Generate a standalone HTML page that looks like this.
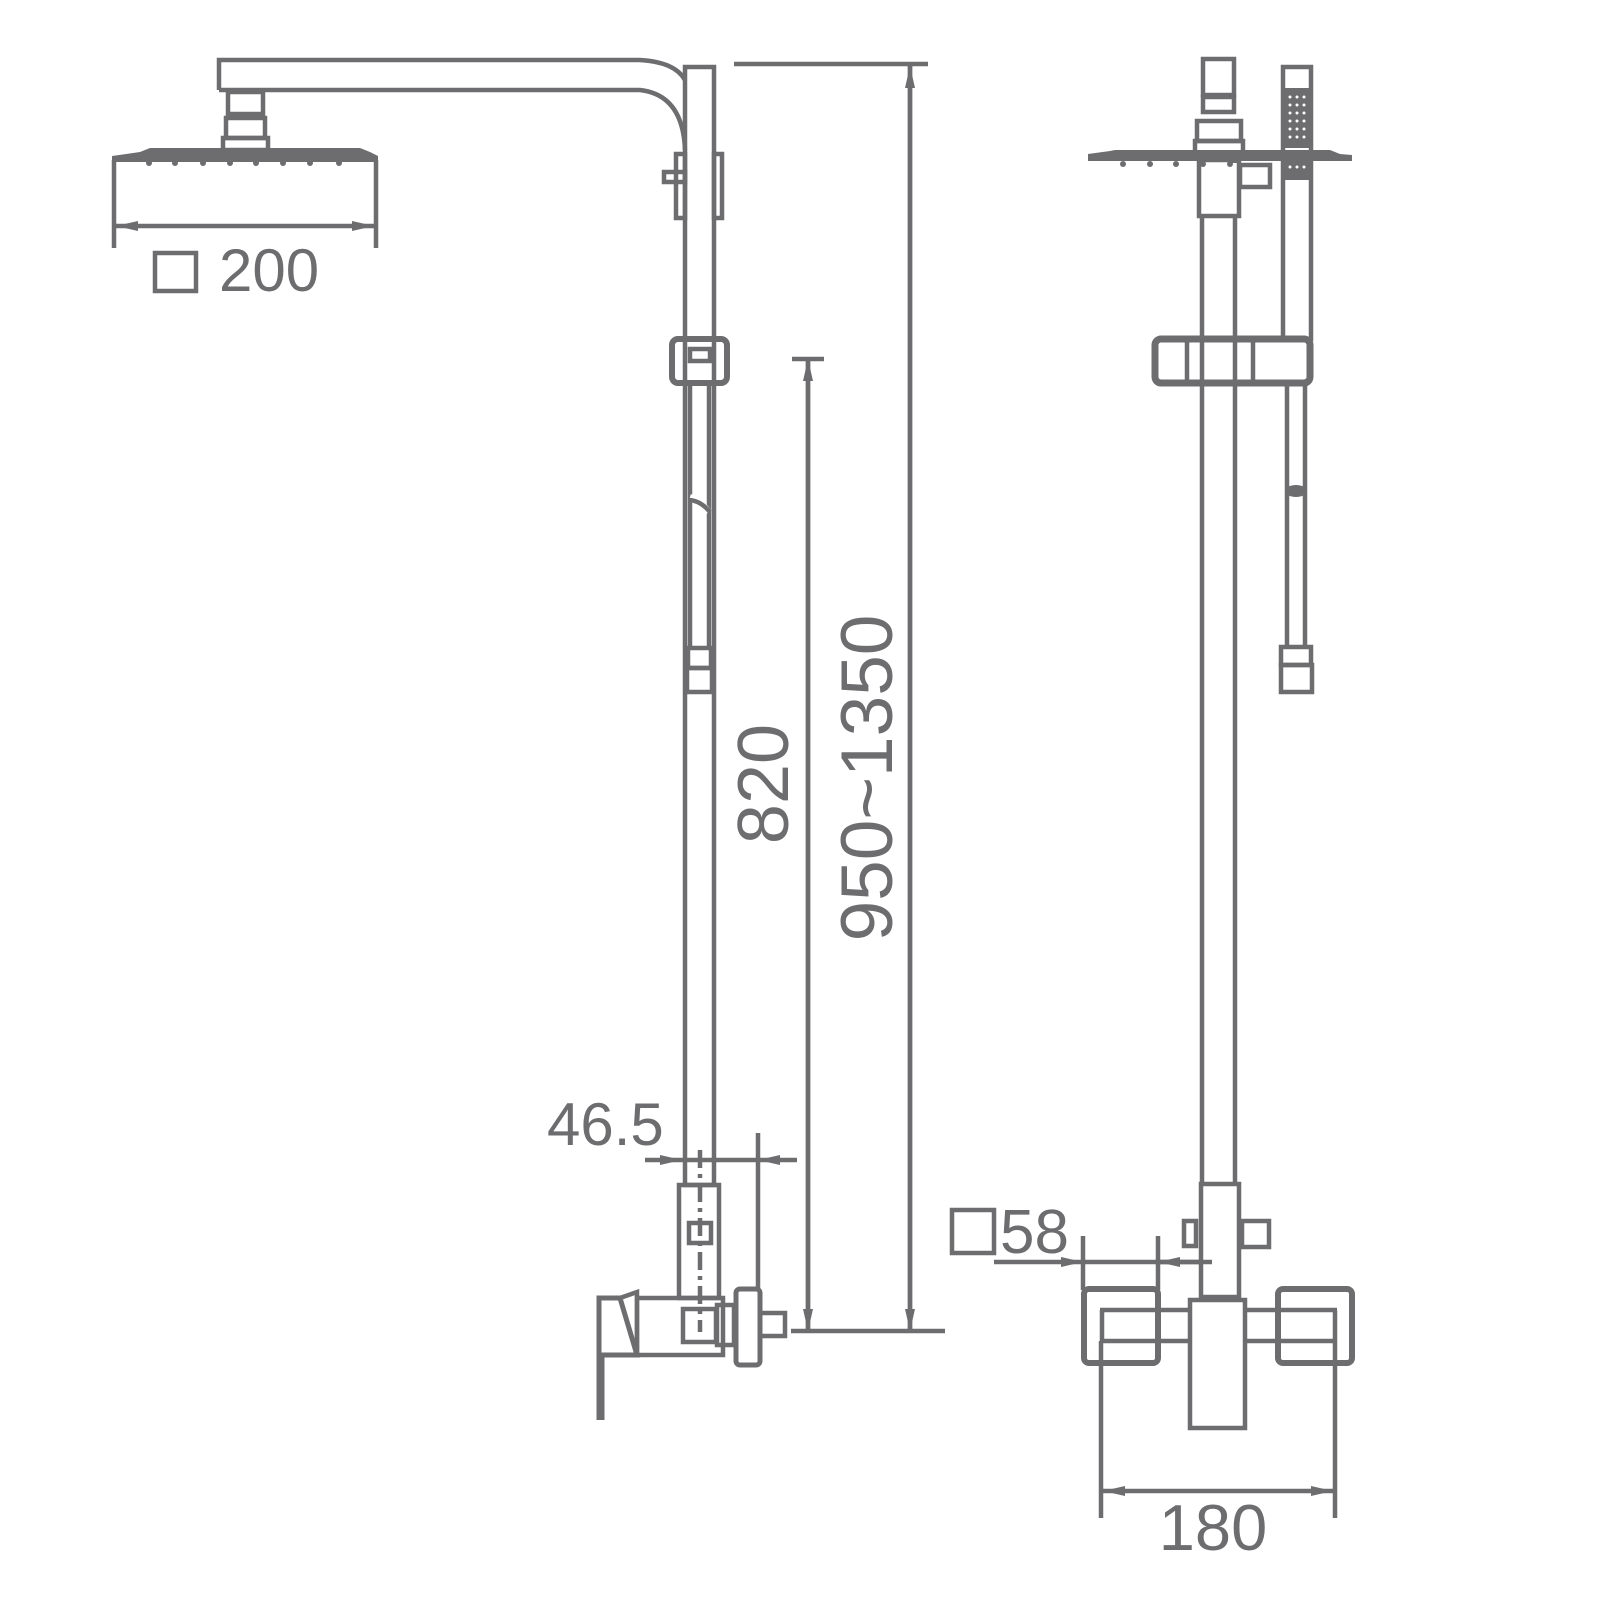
<!DOCTYPE html>
<html><head><meta charset="utf-8"><style>
html,body{margin:0;padding:0;background:#fff;}
svg{display:block}
text{font-family:"Liberation Sans",Arial,sans-serif;fill:#6d6d70}
</style></head><body>
<svg width="1600" height="1600" viewBox="0 0 1600 1600" xmlns="http://www.w3.org/2000/svg">
<defs>
<marker id="a" viewBox="0 0 22 12" refX="22" refY="6" markerWidth="22" markerHeight="12" markerUnits="userSpaceOnUse" orient="auto-start-reverse">
<path d="M0,1 L22,6 L0,11 Z" fill="#6d6d70"/></marker>
</defs>
<g fill="none" stroke="#6d6d70" stroke-width="4.5">
<!-- LEFT VIEW -->
<path d="M219,90 L219,60 L640,60 Q675,62 685,80"/>
<path d="M219,90 L640,90 Q683,95 685,150"/>
<rect x="685" y="67" width="29" height="1118"/>
<rect x="676" y="154" width="9" height="64"/>
<rect x="664" y="172" width="21" height="10"/>
<rect x="714" y="154" width="8" height="64"/>
<rect x="228" y="92" width="35" height="22"/>
<rect x="226" y="118" width="39" height="20"/>
<rect x="223" y="138" width="45" height="12"/>
<path d="M114,160 L114,248 M376,160 L376,248"/>
<line x1="116" y1="226" x2="374" y2="226" marker-start="url(#a)" marker-end="url(#a)"/>
<rect x="672" y="339" width="55" height="44" rx="6" stroke-width="6"/>
<rect x="690" y="349" width="20" height="12"/>
<path d="M690,383 L690,648 M709,383 L709,648"/>
<path d="M690,497 Q700,500 709,512" stroke="#fff" stroke-width="6"/>
<path d="M688,500 Q700,500 710,512"/>
<rect x="688" y="648" width="23" height="20"/>
<rect x="687" y="668" width="25" height="24"/>
<rect x="679" y="1185" width="40" height="113"/>
<rect x="689" y="1223" width="22" height="20"/>
<line x1="700" y1="1150" x2="700" y2="1332" stroke-dasharray="18,6,4,6"/>
<path d="M599,1420 L599,1298 L620,1298 L637,1355 L602,1355 L602,1420" stroke-width="5"/>
<path d="M620,1298 L637,1292 L637,1355"/>
<rect x="637" y="1298" width="86" height="57"/>
<rect x="683" y="1309" width="33" height="33"/>
<rect x="717" y="1305" width="17" height="40"/>
<rect x="736" y="1289" width="24" height="76" rx="4" stroke-width="5"/>
<rect x="760" y="1313" width="25" height="23"/>
<line x1="645" y1="1160" x2="682" y2="1160" marker-end="url(#a)"/>
<line x1="682" y1="1160" x2="758" y2="1160"/>
<line x1="797" y1="1160" x2="758" y2="1160" marker-end="url(#a)"/>
<line x1="758" y1="1133" x2="758" y2="1290"/>
<line x1="792" y1="359" x2="824" y2="359"/>
<line x1="808" y1="1331" x2="808" y2="359" marker-end="url(#a)"/>
<line x1="808" y1="361" x2="808" y2="1331" marker-end="url(#a)"/>
<line x1="910" y1="66" x2="910" y2="1331" marker-end="url(#a)"/>
<line x1="910" y1="1331" x2="910" y2="66" marker-end="url(#a)"/>
<line x1="734" y1="64" x2="928" y2="64"/>
<line x1="791" y1="1331" x2="945" y2="1331"/>

<!-- RIGHT VIEW -->
<rect x="1203" y="59" width="31" height="36"/>
<rect x="1203" y="97" width="31" height="15" />
<rect x="1197" y="121" width="44" height="20"/>
<rect x="1195" y="141" width="48" height="12"/>
<rect x="1199" y="160" width="40" height="56"/>
<rect x="1240" y="165" width="30" height="22"/>
<path d="M1202,216 L1202,1183 M1235,216 L1235,1183"/>
<rect x="1283" y="67" width="28" height="272"/>
<rect x="1155" y="339" width="155" height="44" rx="6" stroke-width="7"/>
<path d="M1187,339 L1187,383 M1253,339 L1253,383"/>
<path d="M1287,383 L1287,647 M1305,383 L1305,647"/>
<rect x="1281" y="647" width="30" height="18"/>
<rect x="1281" y="665" width="31" height="27"/>
<rect x="1201" y="1184" width="38" height="113"/>
<rect x="1184" y="1221" width="12" height="25"/>
<rect x="1242" y="1221" width="27" height="26"/>
<rect x="1190" y="1300" width="55" height="128"/>
<path d="M1100,1310 L1190,1310 M1100,1341 L1190,1341 M1245,1310 L1337,1310 M1245,1341 L1337,1341"/>
<path d="M1102,1310 L1102,1341 M1335,1310 L1335,1341"/>
<rect x="1084" y="1289" width="74" height="74" rx="5" stroke-width="6"/>
<rect x="1278" y="1289" width="74" height="74" rx="5" stroke-width="6"/>
<line x1="994" y1="1262" x2="1083" y2="1262" marker-end="url(#a)"/>
<line x1="1083" y1="1262" x2="1212" y2="1262"/>
<line x1="1200" y1="1262" x2="1158" y2="1262" marker-end="url(#a)"/>
<line x1="1083" y1="1236" x2="1083" y2="1290"/>
<line x1="1158" y1="1236" x2="1158" y2="1290"/>
<line x1="1101" y1="1341" x2="1101" y2="1518"/>
<line x1="1335" y1="1341" x2="1335" y2="1518"/>
<line x1="1218" y1="1491" x2="1103" y2="1491" marker-end="url(#a)"/>
<line x1="1218" y1="1491" x2="1333" y2="1491" marker-end="url(#a)"/>
<rect x="155" y="253" width="41" height="38"/>
<rect x="952" y="1210" width="42" height="43"/>
</g>
<g fill="#6d6d70">
<path d="M112,156 L140,152 L150,148 L360,148 L370,152 L378,156 L378,162 L112,162 Z"/>
<circle cx="149" cy="163" r="3"/><circle cx="175" cy="163" r="3"/><circle cx="203" cy="163" r="3"/><circle cx="230" cy="163" r="3"/><circle cx="256" cy="163" r="3"/><circle cx="283" cy="163" r="3"/><circle cx="310" cy="163" r="3"/><circle cx="339" cy="163" r="3"/>
<rect x="228" y="112" width="35" height="7"/>
<path d="M1088,154 L1110,151 L1115,150 L1330,150 L1340,154 L1352,155 L1352,161 L1088,161 Z"/>
<circle cx="1123" cy="164" r="3"/><circle cx="1150" cy="164" r="3"/><circle cx="1176" cy="164" r="3"/><circle cx="1203" cy="164" r="3"/><circle cx="1230" cy="164" r="3"/>
<rect x="1283" y="88" width="28" height="60"/>
<rect x="1283" y="160" width="28" height="20"/>
<ellipse cx="1296" cy="491" rx="11" ry="6"/>
<rect x="1229" y="155" width="10" height="8"/>
</g>
<g fill="#fff">
<circle cx="1290" cy="97" r="1.5"/><circle cx="1297" cy="97" r="1.5"/><circle cx="1304" cy="97" r="1.5"/>
<circle cx="1290" cy="105" r="1.5"/><circle cx="1297" cy="105" r="1.5"/><circle cx="1304" cy="105" r="1.5"/>
<circle cx="1290" cy="113" r="1.5"/><circle cx="1297" cy="113" r="1.5"/><circle cx="1304" cy="113" r="1.5"/>
<circle cx="1290" cy="121" r="1.5"/><circle cx="1297" cy="121" r="1.5"/><circle cx="1304" cy="121" r="1.5"/>
<circle cx="1290" cy="129" r="1.5"/><circle cx="1297" cy="129" r="1.5"/><circle cx="1304" cy="129" r="1.5"/>
<circle cx="1290" cy="137" r="1.5"/><circle cx="1297" cy="137" r="1.5"/><circle cx="1304" cy="137" r="1.5"/>
<circle cx="1290" cy="167" r="1.5"/><circle cx="1297" cy="167" r="1.5"/><circle cx="1304" cy="167" r="1.5"/>
<circle cx="1258" cy="176" r="3"/>
</g>
<text x="219" y="291" font-size="60">200</text>
<text x="547" y="1145" font-size="60">46.5</text>
<text x="1000" y="1253" font-size="62">58</text>
<text x="1213" y="1550" font-size="65" text-anchor="middle">180</text>
<text x="788" y="784" font-size="72" text-anchor="middle" transform="rotate(-90 788 784)">820</text>
<text x="892" y="778" font-size="73" text-anchor="middle" transform="rotate(-90 892 778)">950~1350</text>
</svg>
</body></html>
